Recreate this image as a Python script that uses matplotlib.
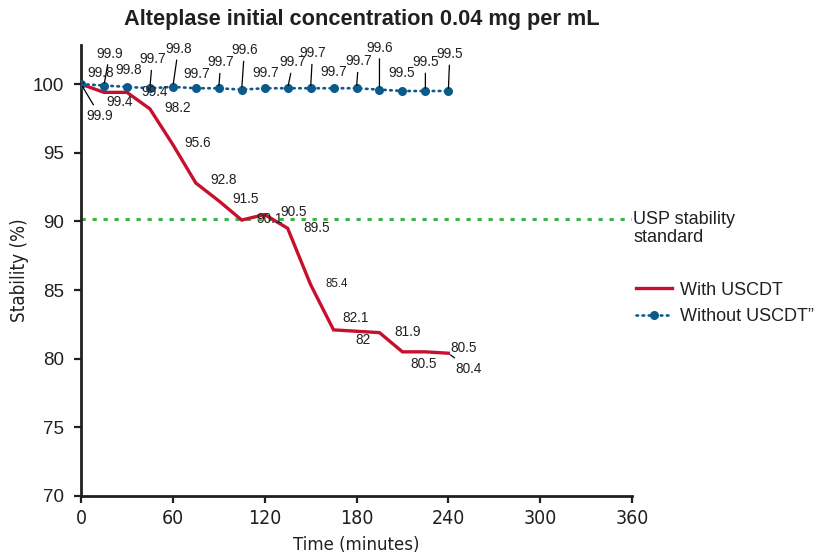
import matplotlib
matplotlib.use("Agg")
import matplotlib.pyplot as plt
from matplotlib.lines import Line2D
from matplotlib import font_manager as fm

# ---------------- data ----------------
times = [0, 15, 30, 45, 60, 75, 90, 105, 120, 135, 150, 165, 180, 195, 210, 225, 240]
with_uscdt = [100, 99.4, 99.4, 98.2, 95.6, 92.8, 91.5, 90.1, 90.5, 89.5, 85.4, 82.1, 82.0, 81.9, 80.5, 80.5, 80.4]
with_labels = ["99.9", "99.4", "99.4", "98.2", "95.6", "92.8", "91.5", "90.1", "90.5", "89.5",
               "85.4", "82.1", "82", "81.9", "80.5", "80.5", "80.4"]
without_uscdt = [100, 99.9, 99.8, 99.7, 99.8, 99.7, 99.7, 99.6, 99.7, 99.7, 99.7, 99.7, 99.7, 99.6, 99.5, 99.5, 99.5]
without_labels = ["99.8", "99.9", "99.8", "99.7", "99.8", "99.7", "99.7", "99.6", "99.7", "99.7",
                  "99.7", "99.7", "99.7", "99.6", "99.5", "99.5", "99.5"]
usp_standard = 90.2
x_ticks = [0, 60, 120, 180, 240, 300, 360]
y_ticks = [70, 75, 80, 85, 90, 95, 100]
title = "Alteplase initial concentration 0.04 mg per mL"
series_names = ["With USCDT", "Without USCDT\u201d"]
usp_name = "USP stability\nstandard"

# ---------------- fonts ----------------
names = {f.name for f in fm.fontManager.ttflist}
REG = "Liberation Sans" if "Liberation Sans" in names else "DejaVu Sans"
narrow_file = None
for f in fm.fontManager.ttflist:
    if "Liberation Sans Narrow" in f.name and f.weight in (400, "normal", "regular") and f.style == "normal":
        narrow_file = f.fname
        break
if narrow_file is None:
    for f in fm.fontManager.ttflist:
        low = (f.name + " " + str(f.stretch) + " " + f.fname).lower()
        if ("narrow" in low or "condensed" in low) and "bold" not in f.fname.lower() \
                and "oblique" not in f.fname.lower() and "italic" not in f.fname.lower() \
                and f.style == "normal" and "mono" not in low and "serif" not in f.fname.lower():
            narrow_file = f.fname
            break


def narrow_prop(size):
    if narrow_file:
        return fm.FontProperties(fname=narrow_file, size=size)
    return fm.FontProperties(family=REG, size=size)


TXT = "#231f20"
RED = "#c8102e"
BLUE = "#0b5a8c"
GREEN = "#3cb44a"

# label offsets in pixels (dx, dy with up positive), and whether a leader line is drawn
blue_off = [(20, 11.5), (5.7, 32), (2, 16.5), (2.5, 29), (5.5, 38), (0.7, 14.5), (2, 26), (2.7, 39.5),
            (1, 15), (5.5, 26), (2, 35), (0, 16), (2, 27), (0, 42), (-1, 17.5), (0, 29), (1.5, 37)]
blue_lead = [True, True, False, True, True, False, True, True, False,
             True, True, False, True, True, False, True, True]
red_off = [(19, -31.7), (15.7, -9.7), (27.5, 0.6), (27.5, 1), (25, 1.5), (28, 2.5), (27, 2), (28, 1),
           (28.5, 3), (29, 0.7), (26, 1), (22, 11.6), (6.3, -8.8), (28, 1), (21.5, -12.4),
           (38.7, 3.5), (20, -15.3)]
red_lead = [True] + [False] * 15 + [True]

W, H = 830, 556
fig = plt.figure(figsize=(W / 100, H / 100), dpi=100)
ax = fig.add_axes([81 / W, 1 - 496 / H, (632 - 81) / W, (496 - 45) / H])

ax.set_xlim(0, 360)
ax.set_ylim(70, 102.85)

ax.plot([0, 360], [usp_standard, usp_standard], color=GREEN, lw=2.2,
        linestyle=(0, (1.4, 2.2)), solid_capstyle="butt", dash_capstyle="butt", zorder=2)
ax.plot(times, with_uscdt, color=RED, lw=2.4, solid_joinstyle="miter", zorder=3)
ax.plot(times, without_uscdt, color=BLUE, lw=1.9, linestyle=(0, (0.6, 1.7)),
        dash_capstyle="round", marker="o", markersize=6.5, markeredgewidth=0,
        markerfacecolor=BLUE, zorder=4)

LFS = 9.8
for t, v, lab, off, lead in zip(times, without_uscdt, without_labels, blue_off, blue_lead):
    ax.annotate(lab, xy=(t, v), xytext=off, textcoords="offset pixels",
                ha="center", va="center", fontsize=LFS, family=REG, color=TXT, zorder=5,
                arrowprops=dict(arrowstyle="-", color="black", lw=0.9, shrinkA=1, shrinkB=2) if lead else None)

for t, v, lab, off, lead in zip(times, with_uscdt, with_labels, red_off, red_lead):
    fs = 8.3 if lab == "85.4" else LFS
    ax.annotate(lab, xy=(t, v), xytext=off, textcoords="offset pixels",
                ha="center", va="center", fontsize=fs, family=REG, color=TXT, zorder=5,
                arrowprops=dict(arrowstyle="-", color="black", lw=0.9, shrinkA=1, shrinkB=2) if lead else None)

ax.annotate(usp_name, xy=(360, usp_standard), xytext=(1, -10), textcoords="offset pixels",
            ha="left", va="center", fontsize=13, family=REG, color=TXT, linespacing=1.1,
            annotation_clip=False)

# axes styling
for s in ["top", "right"]:
    ax.spines[s].set_visible(False)
for s in ["left", "bottom"]:
    ax.spines[s].set_color(TXT)
    ax.spines[s].set_linewidth(2.0)
ax.set_xticks(x_ticks)
ax.set_yticks(y_ticks)
ax.tick_params(axis="both", colors=TXT, width=1.6, length=5, direction="out")
ax.tick_params(axis="y", pad=7.5)
ax.tick_params(axis="x", pad=4)
for lab in ax.get_yticklabels():
    lab.set_family(REG)
    lab.set_fontsize(13.5)
for lab in ax.get_xticklabels():
    lab.set_fontproperties(narrow_prop(14))

ax.set_xlabel("Time (minutes)", fontproperties=narrow_prop(13.3), color=TXT, labelpad=6)
ax.set_ylabel("Stability (%)", fontproperties=narrow_prop(13.5), color=TXT, labelpad=2)

fig.text(361.7 / W, 1 - 20 / H, title, ha="center", va="center", fontsize=15.7,
         fontweight="bold", family=REG, color=TXT)

handles = [Line2D([], [], color=RED, lw=2.4),
           Line2D([], [], color=BLUE, lw=1.9, linestyle=(0, (0.6, 1.7)), dash_capstyle="round",
                  marker="o", markersize=6.5, markeredgewidth=0)]
leg = fig.legend(handles, series_names, loc="center left", bbox_to_anchor=(636 / W, 1 - 303.5 / H),
                 frameon=False, borderpad=0, borderaxespad=0, handlelength=2.0,
                 handletextpad=0.45, labelspacing=0.55, numpoints=1,
                 prop={"family": REG, "size": 13})
for t in leg.get_texts():
    t.set_color(TXT)

fig.savefig("out.png", dpi=100)
